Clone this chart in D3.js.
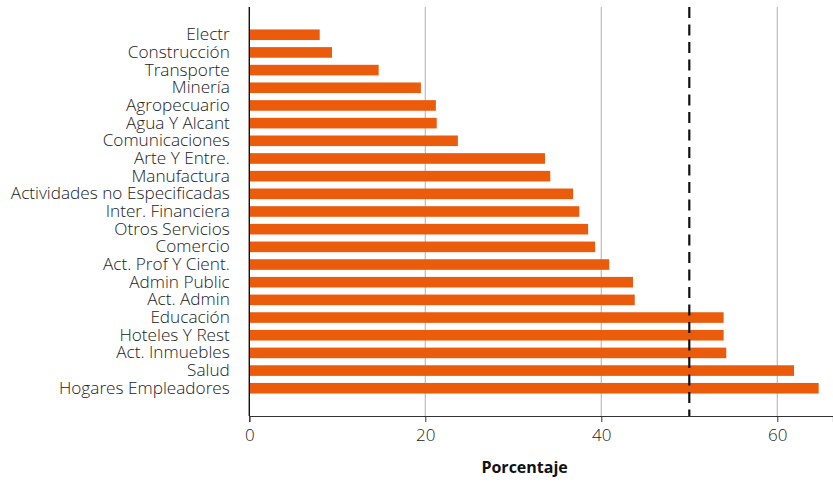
<!DOCTYPE html>
<html><head><meta charset="utf-8">
<script src="https://cdn.jsdelivr.net/npm/d3@7"></script>
<style>body{margin:0;background:#fff}svg{display:block}text{font-family:"Open Sans",sans-serif}</style>
</head><body><svg id="c" width="833" height="482"></svg>
<script>
const categories = ["Electr","Construcción","Transporte","Minería","Agropecuario","Agua Y Alcant","Comunicaciones","Arte Y Entre.","Manufactura","Actividades no Especificadas","Inter. Financiera","Otros Servicios","Comercio","Act. Prof Y Cient.","Admin Public","Act. Admin","Educación","Hoteles Y Rest","Act. Inmuebles","Salud","Hogares Empleadores"];
const values = [8.0,9.4,14.7,19.5,21.2,21.3,23.7,33.6,34.2,36.8,37.5,38.5,39.3,40.9,43.6,43.8,53.9,53.9,54.2,61.9,64.7];
const xTicks = [0,20,40,60];
const refValue = 50;
const xTitle = "Porcentaje";

const svg = d3.select("#c");
const mL = 249.3, mR = 833, mT = 7, mB = 416;
const x = d3.scaleLinear().domain([0, (mR-mL)/8.8]).range([mL, mR]);
const y = d3.scaleBand().domain(categories).range([mT, mB]).paddingInner(0.4).paddingOuter(1.27);

svg.append("g").selectAll("line").data(xTicks.filter(d=>d>0)).join("line")
  .attr("x1",d=>x(d)).attr("x2",d=>x(d)).attr("y1",mT).attr("y2",mB)
  .attr("stroke","#bdbdbd").attr("stroke-width",1.2);

svg.append("g").selectAll("rect").data(categories).join("rect")
  .attr("x",x(0)).attr("y",d=>y(d)).attr("height",y.bandwidth())
  .attr("width",(d,i)=>x(values[i])-x(0)).attr("fill","#EA5B0C");

svg.append("line").attr("x1",x(refValue)).attr("x2",x(refValue)).attr("y1",mT).attr("y2",mB)
  .attr("stroke","#111").attr("stroke-width",2.2).attr("stroke-dasharray","11,6.5");

const xa = svg.append("g").attr("transform",`translate(0,${mB})`)
  .call(d3.axisBottom(x).tickValues(xTicks).tickSize(6).tickPadding(7).tickFormat(d3.format("d")));
xa.select(".domain").attr("stroke","#333").attr("stroke-width",1.2);
xa.selectAll(".tick line").attr("stroke","#333");
xa.selectAll("text").attr("font-size",17).attr("fill","#222").attr("font-weight",300).attr("font-family","'Open Sans',sans-serif");

const ya = svg.append("g").attr("transform",`translate(${mL},0)`)
  .call(d3.axisLeft(y).tickSize(0).tickPadding(19.5));
ya.select(".domain").attr("stroke","#111").attr("stroke-width",1.4).attr("d",`M0,${mT}V${mB}`);
ya.selectAll("text").attr("font-size",17.2).attr("fill","#222").attr("font-weight",300).attr("font-family","'Open Sans',sans-serif");

svg.append("text").attr("x",524.6).attr("y",473).attr("text-anchor","middle")
  .attr("font-weight","bold").attr("font-size",16).attr("fill","#111").text(xTitle);
</script></body></html>
